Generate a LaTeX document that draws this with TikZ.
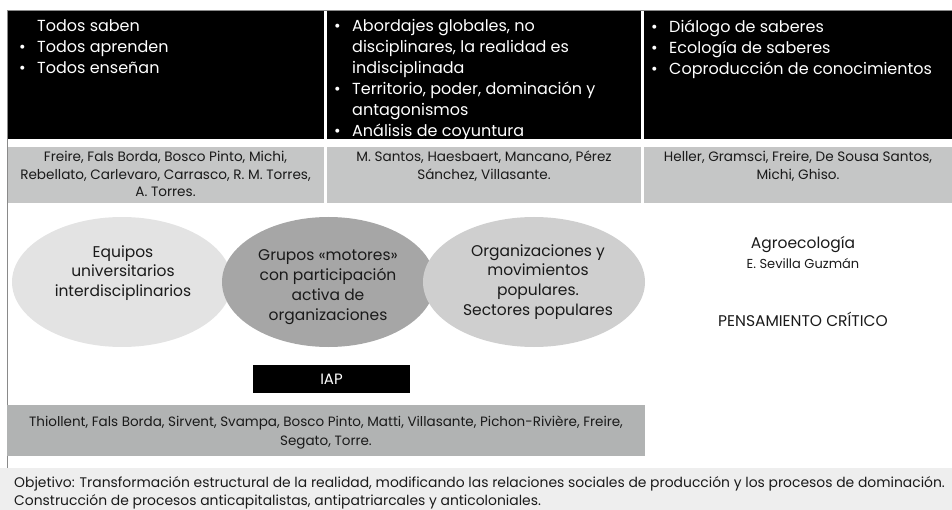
\documentclass[tikz,border=0pt]{standalone}
\usepackage{fontspec}
\setmainfont{Poppins}
\usetikzlibrary{shapes.geometric}
\definecolor{rowgray}{HTML}{C5C6C6}
\definecolor{ellA}{HTML}{E3E3E3}
\definecolor{ellB}{HTML}{A6A6A6}
\definecolor{ellC}{HTML}{CFCFCF}
\definecolor{refgray}{HTML}{B1B3B3}
\definecolor{objgray}{HTML}{EEEEEE}
\definecolor{linegray}{HTML}{8A8A8A}
\definecolor{txt}{HTML}{1A1A1A}
\tikzset{
  blackbox/.style={fill=black, draw=none, inner sep=0, anchor=north west},
  graybox/.style={fill=rowgray, draw=none, inner sep=0, anchor=north west},
  bullettext/.style={anchor=north west, inner sep=0, text=white, align=left,
    font=\fontsize{16}{21}\selectfont},
  authortext/.style={anchor=north, inner sep=0, text=txt, align=center,
    font=\fontsize{13.6}{17.5}\selectfont},
  ell/.style={ellipse, draw=none, inner sep=0, minimum width=220, minimum height=130},
  elltext/.style={align=center, text=txt, inner sep=0, font=\fontsize{15.5}{19.8}\selectfont},
}
\newcommand{\bul}{\makebox[18pt][l]{\textbullet}}
\newcommand{\nobul}{\makebox[18pt][l]{}}
\begin{document}
\begin{tikzpicture}[x=1pt, y=-1pt]
\useasboundingbox (0,0) rectangle (952,510);
% black row
\node[blackbox, minimum width=317, minimum height=128] (b1) at (7,11) {};
\node[blackbox, minimum width=314, minimum height=128] (b2) at (327,11) {};
\node[blackbox, minimum width=308, minimum height=128] (b3) at (644,11) {};
% gray row
\node[graybox, minimum width=317, minimum height=56] (g1) at (7,147) {};
\node[graybox, minimum width=314, minimum height=56] (g2) at (327,147) {};
\node[graybox, minimum width=308, minimum height=56] (g3) at (644,147) {};
% borders
\coordinate (tl) at (7,10);
\coordinate (tr) at (952,10);
\coordinate (bl) at (7,468);
\draw[linegray, line width=0.8] (tr) -- (tl) -- (bl);
% black texts
\node[bullettext] (t1) at (19,19.5) {\nobul Todos saben\\\bul Todos aprenden\\\bul Todos enseñan};
\node[bullettext] (t2) at (334,19.5) {\bul Abordajes globales, no\\\nobul disciplinares, la realidad es\\\nobul indisciplinada\\\bul Territorio, poder, dominación y\\\nobul antagonismos\\\bul Análisis de coyuntura};
\node[bullettext] (t3) at (651,19.5) {\bul Diálogo de saberes\\\bul Ecología de saberes\\\bul Coproducción de conocimientos};
% gray texts
\node[authortext] (a1) at (165.5,151) {Freire, Fals Borda, Bosco Pinto, Michi,\\Rebellato, Carlevaro, Carrasco, R. M. Torres,\\A. Torres.};
\node[authortext] (a2) at (484,151) {M. Santos, Haesbaert, Mancano, Pérez\\Sánchez, Villasante.};
\node[authortext] (a3) at (798,151) {Heller, Gramsci, Freire, De Sousa Santos,\\Michi, Ghiso.};
% ellipses
\node[ell, fill=ellA] (e1) at (122,282) {};
\node[ell, fill=ellB, minimum width=213] (e2) at (328.5,282) {};
\node[ell, fill=ellC, minimum width=222] (e3) at (534,282) {};
\node[elltext] (e1t) at (123,273) {Equipos\\universitarios\\interdisciplinarios};
\node[elltext] (e2t) at (328,287) {Grupos «motores»\\con participación\\activa de\\organizaciones};
\node[elltext] (e3t) at (538,282) {Organizaciones y\\movimientos\\populares.\\Sectores populares};
% right texts
\node[text=txt, inner sep=0, font=\fontsize{15.5}{18}\selectfont] (agro) at (803,245) {Agroecología};
\node[text=txt, inner sep=0, font=\fontsize{13}{15}\selectfont] (sev) at (803,263) {E. Sevilla Guzmán};
\node[text=txt, inner sep=0, font=\fontsize{15.5}{18}\selectfont] (pc) at (803,319) {PENSAMIENTO CRÍTICO};
% IAP
\node[fill=black, text=white, inner sep=0, minimum width=157, minimum height=28, font=\fontsize{15}{16}\selectfont] (iap) at (331.5,379) {IAP};
% Thiollent box
\node[fill=refgray, inner sep=0, minimum width=638, minimum height=51, anchor=north west] (th) at (7,405) {};
\node[authortext, font=\fontsize{13.5}{19}\selectfont] (tht) at (326,416) {Thiollent, Fals Borda, Sirvent, Svampa, Bosco Pinto, Matti, Villasante, Pichon-Rivière, Freire,\\Segato, Torre.};
% objective bar
\node[fill=objgray, inner sep=0, minimum width=952, minimum height=42, anchor=north west] (obj) at (0,468) {};
\node[anchor=north west, inner sep=0, text=txt, align=left, font=\fontsize{13.9}{18}\selectfont] (objt) at (14,476) {Objetivo: Transformación estructural de la realidad, modificando las relaciones sociales de producción y los procesos de dominación.\\Construcción de procesos anticapitalistas, antipatriarcales y anticoloniales.};
\end{tikzpicture}
\end{document}
